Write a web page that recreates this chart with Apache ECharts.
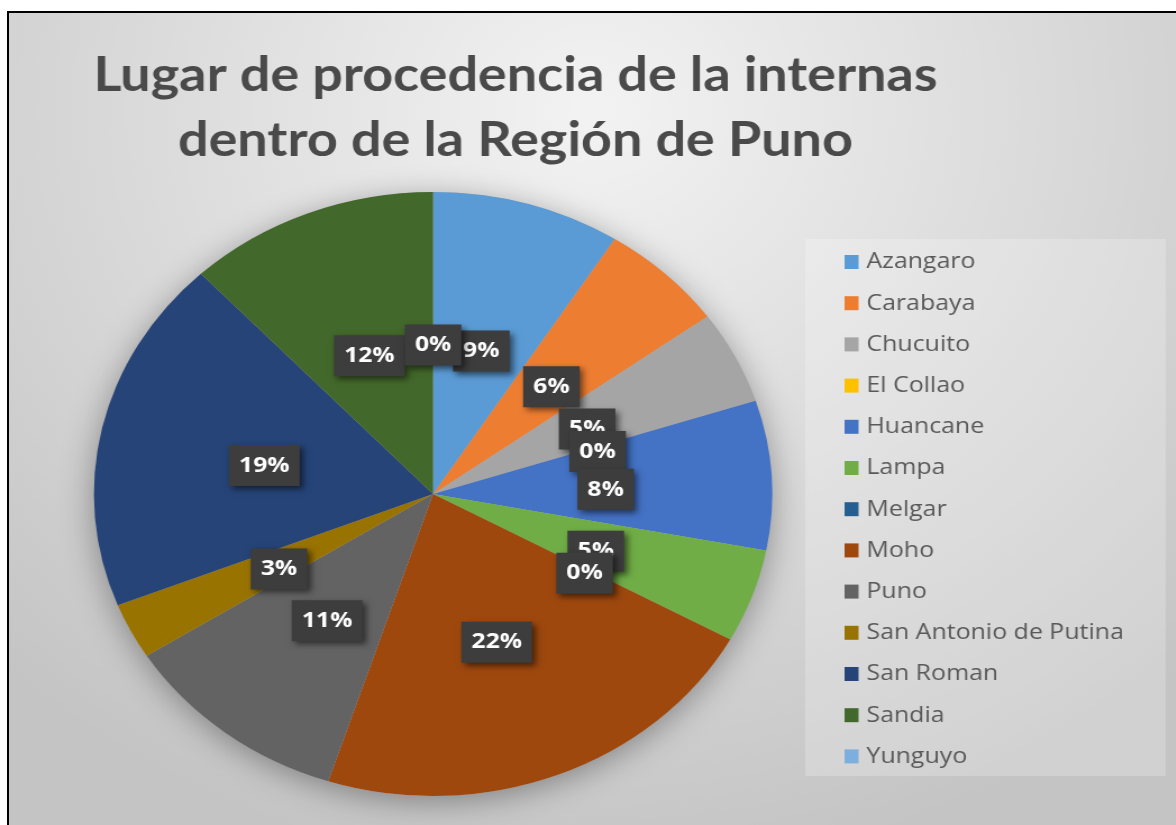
<!DOCTYPE html>
<html>
<head>
<meta charset="utf-8">
<script src="https://cdn.jsdelivr.net/npm/echarts@6/dist/echarts.min.js"></script>
<style>
  html, body { margin: 0; padding: 0; background: #fff; width: 1176px; height: 825px; overflow: hidden; }
  #frame { position: absolute; left: 7px; top: 11px; right: 0; bottom: 0; border-top: 2px solid #000; border-left: 2px solid #000; }
  /* the picture is stretched sideways, so the chart is drawn narrow and scaled in x */
  #main { position: absolute; left: 9px; top: 13px; width: 1039px; height: 812px; transform: scaleX(1.123); transform-origin: 0 0; }
</style>
</head>
<body>
<div id="frame"></div>
<div id="main"></div>
<script>
var titleText = 'Lugar de procedencia de la internas\ndentro de la Región de Puno';
var provincias = ['Azangaro', 'Carabaya', 'Chucuito', 'El Collao', 'Huancane', 'Lampa', 'Melgar', 'Moho', 'Puno', 'San Antonio de Putina', 'San Roman', 'Sandia', 'Yunguyo'];
var porcentajes = [9, 6, 5, 0, 8, 5, 0, 22, 11, 3, 19, 12, 0];
var colores = ['#5B9BD5', '#ED7D31', '#A5A5A5', '#FFC000', '#4472C4', '#70AD47', '#255E91', '#9E480E', '#636363', '#997300', '#264478', '#43682B', '#7CAFDD'];

var chart = echarts.init(document.getElementById('main'));

var datos = [];
for (var i = 0; i < provincias.length; i++) {
  datos.push({ name: provincias[i], value: porcentajes[i] });
}
var total = porcentajes.reduce(function (a, b) { return a + b; }, 0);

var option = {
  backgroundColor: {
    type: 'radial', x: 0.5, y: 0.12, r: 0.95,
    colorStops: [
      { offset: 0, color: '#f3f3f3' },
      { offset: 1, color: '#c4c4c4' }
    ]
  },
  color: colores,
  title: {
    text: titleText,
    left: 446,
    top: 25,
    textAlign: 'center',
    textStyle: {
      fontFamily: "Lato, 'Open Sans', sans-serif",
      fontSize: 48,
      fontWeight: 'bold',
      color: '#4a4a4a',
      lineHeight: 65
    }
  },
  graphic: [{
    type: 'rect',
    left: 709, top: 226,
    shape: { width: 321, height: 537 },
    style: { fill: 'rgba(255,255,255,0.22)' },
    z: 0
  }],
  legend: {
    data: provincias,
    orient: 'vertical',
    left: 744,
    top: 238,
    icon: 'rect',
    itemWidth: 12.5,
    itemHeight: 14,
    itemGap: 19.2,
    padding: 0,
    textStyle: {
      fontFamily: "'Open Sans', sans-serif",
      fontSize: 22.2,
      lineHeight: 22,
      padding: [0, 0, 0, 2],
      color: '#595959'
    }
  },
  series: [{
    // soft halo behind the pie
    type: 'pie',
    silent: true,
    center: [377.6, 481],
    radius: [0, 302],
    label: { show: false },
    labelLine: { show: false },
    itemStyle: { color: '#b5b5b5', shadowBlur: 30, shadowOffsetY: 6, shadowColor: 'rgba(0,0,0,0.35)' },
    data: [{ name: 'total', value: total }],
    z: 1
  }, {
    type: 'pie',
    center: [377.6, 481],
    radius: [0, 302],
    startAngle: 90,
    clockwise: true,
    avoidLabelOverlap: false,
    minShowLabelAngle: -1,
    labelLayout: { hideOverlap: false },
    itemStyle: { borderWidth: 0 },
    label: {
      show: true,
      position: 'inside',
      offset: [0, 5],
      formatter: function (p) { return Math.round(p.percent) + '%'; },
      fontFamily: "'Open Sans', sans-serif",
      fontSize: 22,
      fontWeight: 'bold',
      color: '#ffffff',
      backgroundColor: '#3d3d3d',
      padding: [10, 9, 9, 9],
      shadowColor: 'rgba(0,0,0,0.55)',
      shadowBlur: 6,
      shadowOffsetX: 3,
      shadowOffsetY: 3
    },
    labelLine: { show: false },
    emphasis: { scale: false },
    data: datos,
    z: 2
  }]
};

chart.setOption(option);
</script>
</body>
</html>
